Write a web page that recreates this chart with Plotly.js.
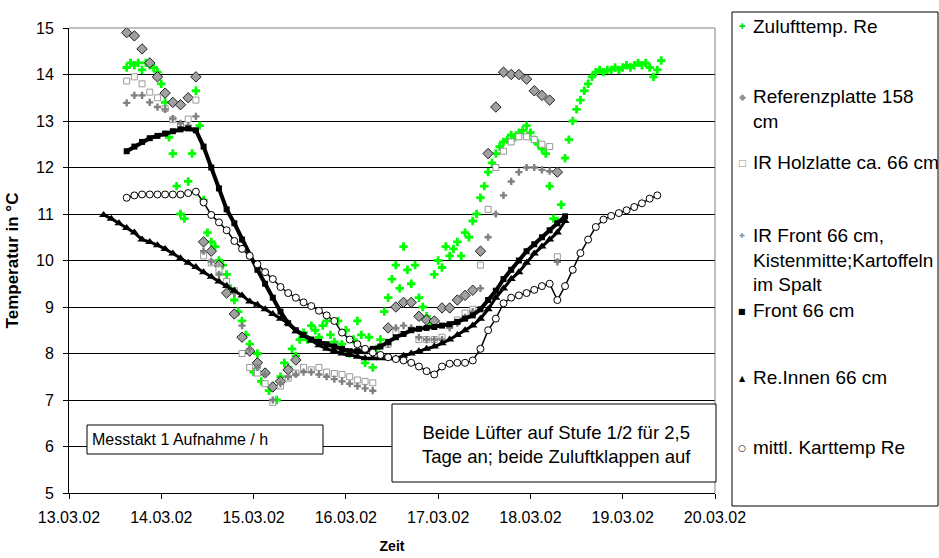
<!DOCTYPE html>
<html>
<head>
<meta charset="utf-8">
<script src="https://cdn.plot.ly/plotly-3.0.1.min.js"></script>
<style>html,body{margin:0;padding:0;background:#fff;}#chart{width:939px;height:558px;}</style>
</head>
<body>
<div id="chart"></div>
<script>
// Logger grids (Messtakt 1 Aufnahme / h)
// Zuluft: hourly readings from 13.03.02 15:00; other series: every 2nd reading from 13.03.02 09:00
const ZULUFT_START_HOUR = 15, ZULUFT_STEP = 1;
const GRID_START_HOUR = 9, GRID_STEP = 2, GRID_N = 74;

const seriesNames = [
  "Zulufttemp. Re",
  "Referenzplatte 158 cm",
  "IR Holzlatte ca. 66 cm",
  "IR Front 66 cm, Kistenmitte;Kartoffeln im Spalt",
  "Front 66 cm",
  "Re.Innen 66 cm",
  "mittl. Karttemp Re"
];

const zuluft = [
  14.15,14.25,14.2,14.25,14.1,14.25,14.2,14.15,14.05,13.8,
  13.4,12.65,12.3,11.6,11.0,10.9,11.7,12.3,13.65,12.9,
  11.3,10.6,10.4,10.3,10.0,9.9,9.7,9.4,9.15,8.9,
  8.7,8.4,8.2,7.6,8.0,7.4,7.6,7.2,7.3,7.0,
  7.5,7.8,7.7,8.1,7.95,8.3,8.45,8.3,8.6,8.5,
  8.35,8.6,8.7,8.4,8.25,8.7,8.2,8.5,8.0,8.3,
  8.7,8.4,7.8,8.35,7.7,8.1,8.3,8.9,9.2,9.6,
  9.9,9.4,10.3,9.8,9.5,9.9,9.2,9.0,8.8,8.65,
  9.7,10.0,9.85,10.3,10.1,10.25,10.4,10.1,10.6,10.5,
  10.85,11.0,11.35,11.6,11.9,12.1,12.3,12.45,12.55,12.6,
  12.7,12.65,12.75,12.8,12.9,12.75,12.6,12.5,12.4,12.3,
  11.6,10.9,10.85,11.2,12.2,12.6,13.0,13.25,13.45,13.65,
  13.8,13.95,14.05,14.1,14.05,14.1,14.1,14.15,14.1,14.15,
  14.2,14.15,14.2,14.25,14.2,14.25,14.15,13.95,14.1,14.3];

const referenz = [null,null,null,
  14.9,14.83,14.55,14.25,13.95,13.6,13.4,13.35,13.5,13.95,
  10.4,10.2,9.9,9.3,8.85,8.35,8.05,7.8,7.58,7.28,
  7.4,7.65,7.86,null,null,null,null,null,null,null,
  null,null,null,null,8.55,9.0,9.1,9.1,8.8,8.72,
  8.7,8.98,8.98,9.15,9.25,9.36,10.2,12.3,13.3,14.05,
  14.0,14.0,13.9,13.65,13.55,13.45,11.9,null,null,null,
  null,null,null,null,null,null,null,null,null,null,
  null];

const irHolz = [null,null,null,
  13.86,13.95,13.8,13.62,13.5,13.27,13.03,12.9,13.04,13.45,
  10.1,9.95,9.8,9.55,9.35,8.0,7.7,7.58,7.35,6.95,
  7.3,7.47,7.58,7.7,7.65,7.7,7.6,7.57,7.55,7.5,
  7.43,7.4,7.37,null,8.2,8.45,null,null,8.3,8.3,
  8.3,8.35,null,8.72,8.87,8.95,9.9,11.1,12.0,12.35,
  12.55,12.66,12.66,12.6,12.5,12.45,10.08,null,null,null,
  null,null,null,null,null,null,null,null,null,null,
  null];

const irFront = [null,null,null,
  13.39,13.55,13.55,13.4,13.3,13.25,13.05,12.95,12.9,13.1,
  10.2,9.98,9.7,9.45,9.3,8.6,8.1,7.7,7.55,7.0,
  7.35,7.5,7.55,7.6,7.6,7.55,7.5,7.45,7.4,7.35,
  7.3,7.25,7.2,null,8.2,8.55,8.6,8.55,8.35,8.3,
  8.3,8.3,8.55,8.65,8.78,8.9,9.4,10.5,11.0,11.4,
  11.7,11.9,12.0,12.0,11.95,11.92,9.97,null,null,null,
  null,null,null,null,null,null,null,null,null,null,
  null];

const front66 = [null,null,null,
  12.35,12.45,12.55,12.63,12.68,12.73,12.78,12.82,12.84,12.8,
  12.45,12.0,11.55,11.1,10.8,10.45,10.1,9.8,9.5,9.2,
  8.9,8.65,8.5,8.4,8.3,8.25,8.2,8.15,8.1,8.05,
  8.05,8.05,8.1,8.15,8.25,8.35,8.42,8.5,8.53,8.55,
  8.57,8.6,8.63,8.68,8.75,8.82,8.95,9.15,9.35,9.6,
  9.8,10.0,10.2,10.35,10.5,10.65,10.8,10.95,null,null,
  null,null,null,null,null,null,null,null,null,null,
  null];

const reInnen = [
  10.98,10.9,10.8,10.7,10.6,10.45,10.4,10.33,10.25,10.15,
  10.05,9.95,9.86,9.75,9.65,9.55,9.45,9.35,9.25,9.12,
  9.05,8.95,8.85,8.75,8.65,8.48,8.38,8.28,8.18,8.1,
  8.05,8.0,7.97,7.93,7.9,7.9,7.9,7.9,7.9,7.95,
  8.0,8.05,8.1,8.15,8.22,8.3,8.4,8.5,8.6,8.75,
  8.95,9.2,9.4,9.6,9.75,9.95,10.15,10.3,10.45,10.6,
  10.85,null,null,null,null,null,null,null,null,null,
  null,null,null,null];

const mittlKart = [null,null,null,
  11.35,11.4,11.42,11.42,11.42,11.42,11.42,11.42,11.45,11.48,
  11.25,10.98,10.82,10.65,10.42,10.25,10.1,9.92,9.75,9.6,
  9.43,9.3,9.2,9.1,9.02,8.92,8.82,8.7,8.45,8.3,
  8.2,8.1,8.02,7.97,7.92,7.88,7.85,7.8,7.72,7.62,
  7.55,7.72,7.78,7.8,7.8,7.85,8.1,8.5,8.75,9.08,
  9.2,9.25,9.3,9.37,9.45,9.5,9.15,9.45,9.8,10.16,
  10.45,10.72,10.88,10.96,11.02,11.08,11.15,11.23,11.33,11.4,
  null];

const xTickLabelsFormat = "%d.%m.%y";
const yTickValues = [5,6,7,8,9,10,11,12,13,14,15];

function pad(n){ return String(n).padStart(2,"0"); }
function loggerTimes(startHour, step, n) {
  const out = [];
  for (let k = 0; k < n; k++) {
    const h = startHour + step * k;
    out.push("2002-03-" + pad(13 + Math.floor(h / 24)) + " " + pad(h % 24) + ":00");
  }
  return out;
}
const times = loggerTimes(GRID_START_HOUR, GRID_STEP, GRID_N);
const zuluftTimes = loggerTimes(ZULUFT_START_HOUR, ZULUFT_STEP, zuluft.length);

const FONT = "Liberation Sans, Arial, sans-serif";

const traces = [
  {x: zuluftTimes, y: zuluft, name: seriesNames[0], marker: {symbol: "cross", size: 7, color: "#00FF00"}},
  {y: referenz, name: seriesNames[1], marker: {symbol: "diamond", size: 8, color: "#A0A0A0", line: {color: "#202020", width: 1}}},
  {y: irHolz, name: seriesNames[2], marker: {symbol: "square", size: 6, color: "#FFFFFF", line: {color: "#9A9A9A", width: 1}}},
  {y: irFront, name: seriesNames[3], marker: {symbol: "cross", size: 6, color: "#808080"}},
  {y: front66, name: seriesNames[4], mode: "lines+markers", line: {color: "#000", width: 4}, marker: {symbol: "square", size: 6, color: "#000000"}},
  {y: reInnen, name: seriesNames[5], mode: "lines+markers", line: {color: "#000", width: 3}, marker: {symbol: "triangle-up", size: 8, color: "#000000"}},
  {y: mittlKart, name: seriesNames[6], mode: "lines+markers", line: {color: "#000", width: 1.5}, marker: {symbol: "circle", size: 7, color: "#FFFFFF", line: {color: "#000000", width: 1}}}
].map(t => Object.assign({type: "scatter", mode: "markers", x: times, connectgaps: false, hoverinfo: "x+y+name"}, t));

// paper-coordinate helpers (plot area 69..715 px wide, 28..493 px high)
const PX = p => (p - 69) / 646;
const PY = p => (493 - p) / 465;

const legendEntries = [
  {text: "Zulufttemp. Re", cy: 27, sym: "✚", col: "#00E000", fs: 8},
  {text: "Referenzplatte 158<br>cm", cy: 97, sym: "◆", col: "#909090", fs: 9},
  {text: "IR Holzlatte ca. 66 cm", cy: 163, sym: "□", col: "#909090", fs: 9},
  {text: "IR Front 66 cm,<br>Kistenmitte;Kartoffeln<br>im Spalt", cy: 236, sym: "✚", col: "#909090", fs: 7},
  {text: "Front 66 cm", cy: 311, sym: "■", col: "#000000", fs: 8},
  {text: "Re.Innen 66 cm", cy: 378, sym: "▲", col: "#000000", fs: 8},
  {text: "mittl. Karttemp Re", cy: 448, sym: "○", col: "#000000", fs: 9}
];

const annotations = [];
legendEntries.forEach(e => {
  annotations.push({xref: "paper", yref: "paper", x: PX(751), y: PY(e.cy - 13), xanchor: "left", yanchor: "top",
    align: "left", showarrow: false, text: e.text, font: {family: FONT, size: 19, color: "#000"}});
  annotations.push({xref: "paper", yref: "paper", x: PX(742), y: PY(e.cy), xanchor: "center", yanchor: "middle",
    showarrow: false, text: e.sym, font: {family: "DejaVu Sans", size: e.fs, color: e.col}});
});
annotations.push({xref: "paper", yref: "paper", x: PX(90), y: PY(439.5), xanchor: "left", yanchor: "middle",
  showarrow: false, text: "Messtakt 1 Aufnahme / h", font: {family: FONT, size: 16, color: "#000"}});
annotations.push({xref: "paper", yref: "paper", x: PX(556), y: PY(444.5), xanchor: "center", yanchor: "middle",
  align: "center", showarrow: false, text: "Beide Lüfter auf Stufe 1/2 für 2,5<br>Tage an; beide Zuluftklappen auf",
  font: {family: FONT, size: 18.5, color: "#000"}});

const shapes = [
  {type: "line", xref: "paper", yref: "paper", x0: 0, x1: 1, y0: 1, y1: 1, line: {color: "#808080", width: 1}, layer: "above"},
  {type: "line", xref: "paper", yref: "paper", x0: 1, x1: 1, y0: 0, y1: 1, line: {color: "#808080", width: 1}, layer: "above"},
  {type: "rect", xref: "paper", yref: "paper", x0: PX(87), x1: PX(323), y0: PY(454), y1: PY(425), fillcolor: "#FFFFFF", line: {color: "#000", width: 1}, layer: "above"},
  {type: "rect", xref: "paper", yref: "paper", x0: PX(392), x1: PX(716), y0: PY(482), y1: PY(404), fillcolor: "#FFFFFF", line: {color: "#000", width: 1}, layer: "above"},
  {type: "rect", xref: "paper", yref: "paper", x0: PX(732), x1: PX(938), y0: PY(506), y1: PY(12), fillcolor: "#FFFFFF", line: {color: "#000", width: 1}, layer: "below"}
];

const layout = {
  width: 939, height: 558,
  margin: {l: 69, r: 224, t: 28, b: 65, pad: 0},
  paper_bgcolor: "#FFFFFF", plot_bgcolor: "#FFFFFF",
  showlegend: false,
  font: {family: FONT, color: "#000"},
  xaxis: {
    type: "date", range: ["2002-03-13", "2002-03-20"], tick0: "2002-03-13", dtick: 86400000,
    tickformat: xTickLabelsFormat, ticks: "outside", ticklen: 5, tickcolor: "#000",
    showline: true, linecolor: "#000", linewidth: 1, showgrid: false, zeroline: false,
    tickfont: {family: FONT, size: 16, color: "#000"}, ticklabelstandoff: 5,
    title: {text: "Zeit", font: {family: FONT, size: 14, color: "#000", weight: "bold"}, standoff: 15}
  },
  yaxis: {
    range: [5, 15], tickvals: yTickValues, ticks: "outside", ticklen: 5, tickcolor: "#000",
    showline: true, linecolor: "#000", linewidth: 1, showgrid: true, gridcolor: "#000", gridwidth: 1,
    zeroline: false, tickfont: {family: FONT, size: 16, color: "#000"}, ticklabelstandoff: 6,
    title: {text: "Temperatur in °C", font: {family: FONT, size: 17, color: "#000", weight: "bold"}, standoff: 13}
  },
  shapes: shapes,
  annotations: annotations
};

Plotly.newPlot("chart", traces, layout, {staticPlot: true, displayModeBar: false});
</script>
</body>
</html>
